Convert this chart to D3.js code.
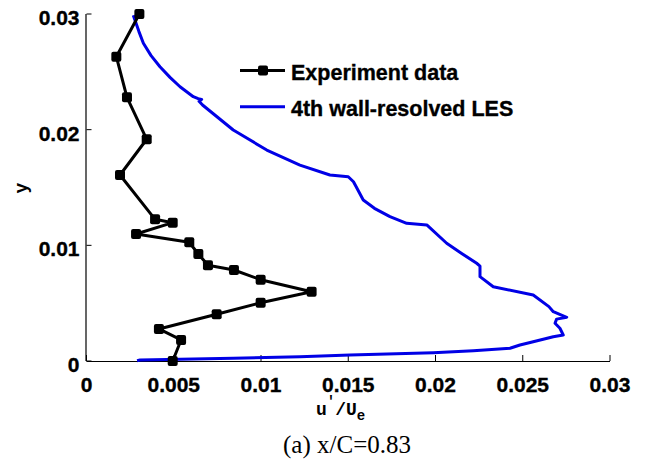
<!DOCTYPE html>
<html>
<head>
<meta charset="utf-8">
<script src="https://cdn.jsdelivr.net/npm/d3@7/dist/d3.min.js"></script>
<style>
  html, body { margin: 0; padding: 0; background: #fff; }
  svg { display: block; }
</style>
</head>
<body>
<div id="chart"></div>
<script>
// ---- data ----
const xTicks = [0, 0.005, 0.01, 0.015, 0.02, 0.025, 0.03];
const xTickLabels = ["0", "0.005", "0.01", "0.015", "0.02", "0.025", "0.03"];
const yTicks = [0, 0.01, 0.02, 0.03];
const yTickLabels = ["0", "0.01", "0.02", "0.03"];

const seriesNames = ["Experiment data", "4th wall-resolved LES"];

// Experiment data (u'/Ue, y)
const expX = [0.00303, 0.00171, 0.00232, 0.00345, 0.00192, 0.00393, 0.00494, 0.00284,
              0.00589, 0.00641, 0.00696, 0.00845, 0.00998, 0.0129, 0.00998, 0.00746,
              0.00415, 0.00542, 0.00494];
const expY = [0.0300, 0.02631, 0.0228, 0.01917, 0.01608, 0.01225, 0.01196, 0.01098,
              0.01026, 0.00925, 0.00827, 0.00787, 0.00703, 0.00599, 0.00504, 0.00404,
              0.00277, 0.00182, 0.0000];

// 4th wall-resolved LES (u'/Ue, y)
const lesX = [0.00268, 0.00300, 0.00326, 0.00370, 0.00421, 0.00480, 0.00536, 0.00612,
              0.00640, 0.00660, 0.00645, 0.00665, 0.00841, 0.01033, 0.01223, 0.01395,
              0.01500, 0.01530, 0.01586, 0.01650, 0.01739, 0.01835, 0.01950, 0.02064,
              0.02150, 0.02236, 0.02255, 0.02255, 0.02331, 0.02560, 0.02650, 0.02675,
              0.02752, 0.02694, 0.02685, 0.02713, 0.02732, 0.02675, 0.02560, 0.02484,
              0.02427, 0.02217, 0.01987, 0.01510, 0.01223, 0.00841, 0.00307, 0.00290];
const lesY = [0.0299, 0.0285, 0.02747, 0.0264, 0.02544, 0.0245, 0.02371, 0.02285,
              0.02268, 0.02262, 0.02245, 0.02213, 0.01997, 0.01824, 0.01694, 0.01608,
              0.01593, 0.0155, 0.01392, 0.0132, 0.01248, 0.0119, 0.01176, 0.01018,
              0.0093, 0.00845, 0.00821, 0.00729, 0.00642, 0.00571, 0.0047, 0.00426,
              0.00378, 0.00362, 0.00326, 0.00283, 0.00225, 0.0021, 0.00167, 0.00138,
              0.0011, 0.00089, 0.00072, 0.00052, 0.00037, 0.00023, 0.00009, 0.00002];

// ---- layout ----
const W = 645, H = 466;
const x = d3.scaleLinear().domain([0, 0.03]).range([86.5, 610]);
const y = d3.scaleLinear().domain([0, 0.03]).range([361, 14]);

const svg = d3.select("#chart").append("svg")
  .attr("width", W).attr("height", H)
  .style("background", "#fff");

const tickFont = "'Liberation Sans', Arial, sans-serif";
function boldText(sel, size) {
  return sel.attr("font-family", tickFont).attr("font-weight", "bold")
    .attr("font-size", size).attr("fill", "#000")
    .attr("stroke", "#000").attr("stroke-width", 0.35);
}

// axes lines
svg.append("line").attr("x1", x(0)).attr("x2", x(0.03))
  .attr("y1", y(0) + 0.5).attr("y2", y(0) + 0.5)
  .attr("stroke", "#000").attr("stroke-width", 1.2);
svg.append("line").attr("x1", x(0) - 0.5).attr("x2", x(0) - 0.5)
  .attr("y1", y(0.03)).attr("y2", y(0))
  .attr("stroke", "#000").attr("stroke-width", 1.2);

// x ticks (inward)
xTicks.forEach((t, i) => {
  svg.append("line").attr("x1", x(t)).attr("x2", x(t))
    .attr("y1", y(0)).attr("y2", y(0) - 6)
    .attr("stroke", "#000").attr("stroke-width", 1);
  boldText(svg.append("text").attr("x", x(t)).attr("y", 391.5)
    .attr("text-anchor", "middle"), 21)
    .text(xTickLabels[i]);
});

// y ticks (inward)
yTicks.forEach((t, i) => {
  svg.append("line").attr("x1", x(0)).attr("x2", x(0) + 5)
    .attr("y1", y(t)).attr("y2", y(t))
    .attr("stroke", "#000").attr("stroke-width", 1);
  boldText(svg.append("text").attr("x", 79.5).attr("y", y(t) + 11)
    .attr("text-anchor", "end"), 21)
    .text(yTickLabels[i]);
});

// LES line
const lesData = lesX.map((v, i) => [v, lesY[i]]);
svg.append("path").datum(lesData)
  .attr("fill", "none").attr("stroke", "#0000e6").attr("stroke-width", 3)
  .attr("stroke-linejoin", "round")
  .attr("d", d3.line().x(d => x(d[0])).y(d => y(d[1])));

// Experiment line + markers
const expData = expX.map((v, i) => [v, expY[i]]);
svg.append("path").datum(expData)
  .attr("fill", "none").attr("stroke", "#000").attr("stroke-width", 3)
  .attr("stroke-linejoin", "round")
  .attr("d", d3.line().x(d => x(d[0])).y(d => y(d[1])));
const ms = 10;
svg.selectAll("rect.m").data(expData).enter().append("rect")
  .attr("class", "m")
  .attr("x", d => x(d[0]) - ms / 2).attr("y", d => y(d[1]) - ms / 2)
  .attr("width", ms).attr("height", ms).attr("rx", 2)
  .attr("fill", "#000");

// legend
const lg = svg.append("g");
lg.append("line").attr("x1", 240).attr("x2", 285).attr("y1", 70.5).attr("y2", 70.5)
  .attr("stroke", "#000").attr("stroke-width", 3);
lg.append("rect").attr("x", 263 - ms / 2).attr("y", 70.5 - ms / 2)
  .attr("width", ms).attr("height", ms).attr("rx", 2).attr("fill", "#000");
boldText(lg.append("text").attr("x", 291).attr("y", 80), 21.5)
  .text(seriesNames[0]);
lg.append("line").attr("x1", 240).attr("x2", 285).attr("y1", 106.7).attr("y2", 106.7)
  .attr("stroke", "#0000e6").attr("stroke-width", 3);
boldText(lg.append("text").attr("x", 291).attr("y", 116), 21.5)
  .text(seriesNames[1]);

// axis labels
const monoFont = "'Liberation Mono', 'Courier New', monospace";
const xl = svg.append("text").attr("x", 316).attr("y", 415)
  .attr("font-family", monoFont).attr("font-weight", "bold").attr("font-size", 18);
xl.append("tspan").text("u");
xl.append("tspan").attr("dy", -9).attr("font-size", 14).text("'");
xl.append("tspan").attr("dy", 9).text("/U");
xl.append("tspan").attr("dy", 5).attr("font-size", 14).text("e");

svg.append("text")
  .attr("transform", "translate(27,188) rotate(-90)")
  .attr("text-anchor", "middle")
  .attr("font-family", monoFont).attr("font-weight", "bold").attr("font-size", 18)
  .text("y");

// caption
svg.append("text").attr("x", 347).attr("y", 453)
  .attr("text-anchor", "middle")
  .attr("font-family", "'Liberation Serif', 'Times New Roman', serif")
  .attr("font-size", 25)
  .text("(a) x/C=0.83");
</script>
</body>
</html>
